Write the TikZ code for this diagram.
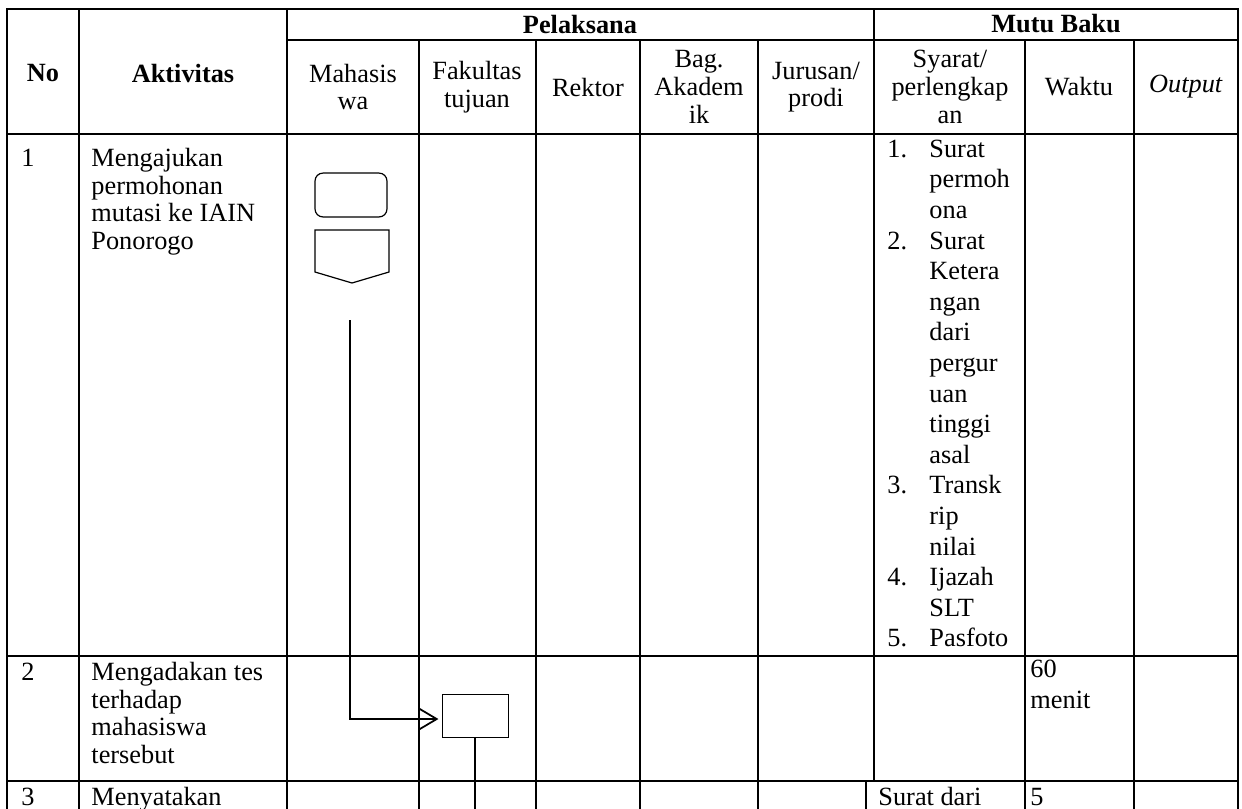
\documentclass[tikz,border=0pt]{standalone}
\usepackage{fontspec}
\setmainfont{Liberation Serif}
\usetikzlibrary{positioning,arrows.meta}

\tikzset{
  grid/.style={line width=0.75pt,line cap=rect},
  cell/.style={anchor=north west,inner sep=0pt,align=left,font=\fontsize{12}{12.6}\selectfont},
  listcell/.style={cell,font=\fontsize{12}{13.95}\selectfont},
  head/.style={inner sep=0pt,align=center,font=\fontsize{12}{12.6}\selectfont},
  terminal/.style={draw,line width=0.55pt,rounded corners=3.6pt,minimum width=32.8pt,minimum height=20pt,inner sep=0pt},
  process/.style={draw,line width=0.45pt,minimum width=30.1pt,minimum height=19.6pt,inner sep=0pt},
  flow/.style={line width=0.7pt},
}
\newcommand{\fl}{\rule{0pt}{10pt}}

\begin{document}
\begin{tikzpicture}[x=0.456pt,y=-0.456pt]
  \useasboundingbox (0,0) rectangle (1242,808);
  \clip (0,0) rectangle (1242,808);

  % table lines
  \draw[grid] (7,9) -- (1238,9);
  \draw[grid] (287,40) -- (1238,40);
  \foreach \y in {134,656,781} \draw[grid] (7,\y) -- (1238,\y);
  \foreach \x in {7,79,287,1238} \draw[grid] (\x,9) -- (\x,820);
  \draw[grid] (874,9) -- (874,781);
  \draw[grid] (866,781) -- (866,820);
  \foreach \x in {419,536,640,758,1025,1134} \draw[grid] (\x,40) -- (\x,820);

  % header
  \node[head,font=\fontsize{12}{12.6}\selectfont\bfseries] (pelaksana) at (580,24) {Pelaksana};
  \node[head,font=\fontsize{12}{12.6}\selectfont\bfseries] (mutubaku) at (1056,24) {Mutu Baku};
  \node[head,font=\fontsize{12}{12.6}\selectfont\bfseries] (no) at (43,73) {No};
  \node[head,font=\fontsize{12}{12.6}\selectfont\bfseries] (aktivitas) at (183,73) {Aktivitas};
  \node[head] (mhs) at (353,87) {Mahasis\\wa};
  \node[head] (fak) at (477,87) {Fakultas\\tujuan};
  \node[head] (rektor) at (588,87) {Rektor};
  \node[head] (akademik) at (699,87) {Bag.\\Akadem\\ik};
  \node[head] (prodi) at (816,87) {Jurusan/\\prodi};
  \node[head] (syarat) at (950,87) {Syarat/\\perlengkap\\an};
  \node[head] (waktu) at (1079,87) {Waktu};
  \node[head] (output) at (1186,87) {\textit{Output}};

  % row 1
  \node[cell] (noa) at (21,144) {\fl 1};
  \node[cell] (akta) at (91,144) {\fl Mengajukan\\permohonan\\mutasi ke IAIN\\Ponorogo};
  \foreach \n/\i in {1/0,2/3,3/11,4/14,5/16}
    \node[listcell] (nr\n) at (887,135+\i*30.6) {\fl\n.};
  \node[listcell] (syarata) at (929,135) {\fl Surat\\permoh\\ona\\Surat\\Ketera\\ngan\\dari\\pergur\\uan\\tinggi\\asal\\Transk\\rip\\nilai\\Ijazah\\SLT\\Pasfoto};

  % row 2
  \node[cell] (nob) at (21,658) {\fl 2};
  \node[cell] (aktb) at (91,658) {\fl Mengadakan tes\\terhadap\\mahasiswa\\tersebut};
  \node[cell,font=\fontsize{12}{14.2}\selectfont] (waktub) at (1030,655) {\fl 60\\menit};

  % row 3
  \node[cell] (noc) at (21,783) {\fl 3};
  \node[cell] (aktc) at (91,783) {\fl Menyatakan};
  \node[cell] (syaratc) at (878,783) {\fl Surat dari};
  \node[cell] (waktuc) at (1030,783) {\fl 5};

  % flow
  \node[terminal] (mulai) at (351,195) {};
  \draw[line width=0.55pt] (315,230) -- (389,230) -- (389,272) -- (352,283) -- (315,272) -- cycle;
  \node[process] (tes) at (475,715.5) {};
  \coordinate (awal) at (350,320);
  \coordinate (akhir) at (475,815);
  \draw[flow,-{Straight Barb[length=8pt,width=9.5pt,line width=0.8pt]},shorten >=1.4pt]
    (awal) |- ([yshift=-1.6pt]tes.west);
  \draw[flow] (tes.south) -- (tes.south |- akhir);
\end{tikzpicture}
\end{document}
